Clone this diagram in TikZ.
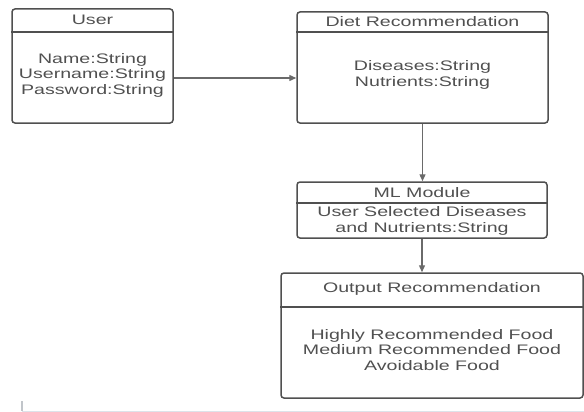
\documentclass[tikz,border=0pt]{standalone}
\usepackage{fontspec}
\setmainfont[FakeStretch=1.42]{Liberation Sans}
\usetikzlibrary{arrows.meta}
\definecolor{boxline}{HTML}{505050}
\definecolor{txt}{HTML}{505050}
\definecolor{arr}{HTML}{6A6A6A}
\definecolor{strip}{HTML}{DDE3EA}
\begin{document}
\begin{tikzpicture}[x=1pt,y=-1pt,
  box/.style={draw=boxline, line width=1.5pt, rounded corners=3pt, inner sep=0pt},
  lbl/.style={text=txt, font=\fontsize{13.8}{15.5}\selectfont, align=center, inner sep=0pt},
  divider/.style={draw=boxline, line width=1.5pt},
  conn/.style={draw=arr, line width=1.3pt, -{Triangle[length=7pt,width=6pt]}}]
\useasboundingbox (0,0) rectangle (584,412);
% boxes
\node[box, minimum width=161pt, minimum height=114pt] (user) at (92.5,66) {};
\node[box, minimum width=251pt, minimum height=111pt] (diet) at (422.5,67.5) {};
\node[box, minimum width=250pt, minimum height=56pt] (ml) at (422,210) {};
\node[box, minimum width=302pt, minimum height=125pt] (out) at (432,335.5) {};
% dividers
\coordinate (d1) at (0,32);
\coordinate (d2) at (0,203);
\coordinate (d3) at (0,307);
\draw[divider] (user.west |- d1) -- (user.east |- d1);
\draw[divider] (diet.west |- d1) -- (diet.east |- d1);
\draw[divider] (ml.west |- d2) -- (ml.east |- d2);
\draw[divider] (out.west |- d3) -- (out.east |- d3);
% texts
\node[lbl] (usertitle) at (92.5,19.5) {User};
\node[lbl] (userattrs) at (92.5,75) {Name:String\\Username:String\\Password:String};
\node[lbl] (diettitle) at (422.5,22) {Diet Recommendation};
\node[lbl] (dietattrs) at (422.5,75) {Diseases:String\\Nutrients:String};
\node[lbl] (mltitle) at (422,192.5) {ML Module};
\node[lbl] (mlattrs) at (422,221) {User Selected Diseases\\and Nutrients:String};
\node[lbl] (outtitle) at (432,289) {Output Recommendation};
\node[lbl] (outattrs) at (432,350) {Highly Recommended Food\\Medium Recommended Food\\Avoidable Food};
% connectors
\coordinate (a1) at (0,78);
\draw[conn] (user.east |- a1) -- (diet.west |- a1);
\draw[conn] (diet.south) -- (diet.south |- ml.north);
\draw[conn] (ml.south) -- (ml.south |- out.north);
% faint bottom strip
\coordinate (s0) at (22,411);
\coordinate (s1) at (584,411);
\coordinate (s2) at (22,401);
\draw[strip, line width=1pt] (s0) -- (s1);
\draw[strip!70!gray, line width=1.2pt] (s2) -- (s0);
\end{tikzpicture}
\end{document}
